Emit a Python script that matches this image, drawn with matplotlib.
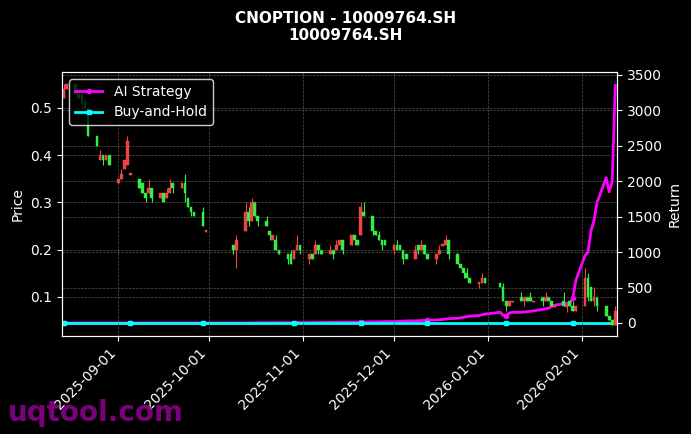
import matplotlib
matplotlib.use("Agg")
import matplotlib.pyplot as plt
import matplotlib.dates as mdates
import pandas as pd
import numpy as np

# trading days
days_aug = ["2025-08-14","2025-08-15","2025-08-18","2025-08-19","2025-08-20","2025-08-21","2025-08-22","2025-08-25","2025-08-26","2025-08-27","2025-08-28","2025-08-29"]
dates = list(pd.to_datetime(days_aug))
dates += list(pd.bdate_range("2025-09-01", "2025-09-30"))
dates += list(pd.bdate_range("2025-10-09", "2025-10-31"))
dates += list(pd.bdate_range("2025-11-01", "2025-11-30"))
dates += list(pd.bdate_range("2025-12-01", "2025-12-31"))
dates += list(pd.bdate_range("2026-01-05", "2026-01-30"))
dates += list(pd.bdate_range("2026-02-02", "2026-02-12"))

opens = [0.52,0.54,0.55,0.53,0.53,0.51,0.50,0.44,0.39,0.40,0.39,0.40,
         0.34,0.35,0.37,0.38,0.36,0.35,0.34,0.32,0.32,0.33,0.31,0.32,0.31,0.32,0.34,0.33,0.34,0.31,0.29,0.28,0.28,0.24,
         0.21,0.20,0.24,0.28,0.26,0.30,0.27,0.26,0.24,0.22,0.22,0.20,0.19,0.19,0.18,0.20,0.21,
         0.18,0.19,0.19,0.21,0.20,0.19,0.20,0.20,0.21,0.22,0.21,0.23,0.22,0.23,0.28,0.27,0.24,0.23,0.22,0.22,
         0.20,0.21,0.21,0.20,0.19,0.18,0.21,0.20,0.21,0.19,0.18,0.19,0.21,0.21,0.22,0.19,0.17,0.16,0.15,0.14,0.13,0.13,0.14,
         0.13,0.12,0.09,0.08,0.09,0.10,0.09,0.10,0.10,0.09,0.10,0.09,0.10,0.09,0.08,0.09,0.08,0.09,0.08,0.07,
         0.08,0.14,0.12,0.09,0.10,0.08,0.06,0.05,0.04]
closes = [0.54,0.55,0.53,0.52,0.51,0.50,0.44,0.42,0.40,0.39,0.40,0.38,
          0.35,0.36,0.39,0.43,0.36,0.33,0.32,0.31,0.33,0.31,0.32,0.30,0.32,0.33,0.33,0.34,0.32,0.29,0.28,0.27,0.25,0.24,
          0.20,0.22,0.28,0.26,0.30,0.27,0.26,0.25,0.23,0.23,0.20,0.19,0.18,0.17,0.20,0.21,0.20,
          0.19,0.18,0.21,0.20,0.19,0.20,0.19,0.21,0.22,0.20,0.23,0.22,0.21,0.29,0.27,0.24,0.23,0.22,0.21,0.21,
          0.21,0.20,0.20,0.18,0.18,0.20,0.20,0.21,0.19,0.18,0.19,0.20,0.21,0.22,0.19,0.17,0.16,0.15,0.14,0.13,0.13,0.14,0.13,
          0.12,0.09,0.08,0.09,0.09,0.09,0.10,0.09,0.09,0.09,0.09,0.10,0.09,0.08,0.08,0.08,0.08,0.08,0.07,0.08,
          0.14,0.10,0.09,0.10,0.08,0.06,0.05,0.04,0.07]
wick_up = [0.01,0.0,0.0,0.01,0.0,0.01,0.0,0.0,0.01,0.0,0.0,0.0,
           0.0,0.01,0.0,0.01,0.0,0.0,0.0,0.0,0.02,0.0,0.0,0.0,0.01,0.02,0.0,0.0,0.02,0.0,0.0,0.0,0.01,0.0,
           0.0,0.01,0.02,0.01,0.01,0.0,0.0,0.01,0.0,0.0,0.01,0.0,0.0,0.01,0.0,0.02,0.0,
           0.0,0.0,0.01,0.0,0.0,0.01,0.0,0.01,0.0,0.0,0.0,0.0,0.0,0.01,0.02,0.0,0.0,0.01,0.0,0.0,
           0.0,0.01,0.0,0.0,0.0,0.01,0.0,0.01,0.0,0.0,0.0,0.01,0.0,0.01,0.0,0.0,0.0,0.0,0.01,0.0,0.0,0.01,0.0,
           0.0,0.01,0.0,0.0,0.0,0.01,0.0,0.0,0.01,0.0,0.0,0.01,0.0,0.0,0.0,0.02,0.0,0.0,0.01,0.0,
           0.02,0.01,0.0,0.02,0.0,0.0,0.0,0.0,0.01]
wick_dn = [0.0,0.0,0.0,0.0,0.01,0.0,0.0,0.0,0.0,0.01,0.0,0.0,
           0.0,0.0,0.0,0.0,0.0,0.0,0.0,0.01,0.0,0.01,0.0,0.0,0.0,0.0,0.01,0.0,0.02,0.0,0.01,0.0,0.0,0.0,
           0.01,0.04,0.0,0.01,0.0,0.0,0.01,0.0,0.01,0.0,0.0,0.0,0.01,0.0,0.0,0.0,0.01,
           0.01,0.0,0.0,0.01,0.0,0.0,0.01,0.0,0.0,0.01,0.0,0.01,0.0,0.0,0.0,0.01,0.0,0.0,0.01,0.0,
           0.01,0.0,0.0,0.01,0.0,0.0,0.01,0.0,0.0,0.0,0.01,0.0,0.0,0.0,0.01,0.0,0.0,0.01,0.0,0.0,0.01,0.0,0.0,
           0.0,0.0,0.01,0.0,0.0,0.0,0.01,0.0,0.0,0.0,0.01,0.0,0.0,0.0,0.0,0.0,0.01,0.0,0.0,0.0,
           0.0,0.01,0.0,0.01,0.01,0.0,0.0,0.0,0.0]

strategy = [0]*12 + [0]*22 + \
    [0,0,0,1,1,1,2,2,2,3,3,3,4,4,4,5,5] + \
    [5,6,6,7,7,8,8,9,9,10,11,12,12,13,14,15,16,17,18,19] + \
    [20,22,24,26,28,30,32,34,36,38,42,46,50,55,60,66,72,80,88,96,105,115,125] + \
    [150,110,105,140,150,150,155,160,165,170,190,200,210,230,250,270,275,280,350,600] + \
    [950,1000,1300,1450,1700,2050,1850,2000,3350]
buyhold = [0]*len(closes)

fig = plt.figure(figsize=(6.91, 4.34), dpi=100, facecolor="black")
ax = fig.add_axes([0.09, 0.226, 0.803, 0.608], facecolor="black")
ax2 = ax.twinx()
ax2.set_zorder(1)
ax.set_zorder(2)
ax.patch.set_visible(False)

xd = mdates.date2num(dates)
for x, o, c, wu, wd in zip(xd, opens, closes, wick_up, wick_dn):
    col = "#ef4444" if c >= o else "#33ee44"
    lo, hi = min(o, c), max(o, c)
    if hi - lo < 0.004:
        lo, hi = lo - 0.002, hi + 0.002
    ax.vlines(x, lo - wd, hi + wu, color=col, lw=0.8)
    ax.bar(x, hi - lo, bottom=lo, width=0.9, color=col, edgecolor=col, lw=0.3)

ax2.plot(dates, strategy, color="#ff00ff", lw=2, marker="o", ms=3, markevery=16, label="AI Strategy")
ax2.plot(dates, buyhold, color="cyan", lw=2, marker="s", ms=3.5, markevery=16, label="Buy-and-Hold")

ax.set_xlim(mdates.date2num(pd.Timestamp("2025-08-14")) - 0.5, mdates.date2num(pd.Timestamp("2026-02-12")) + 0.6)
ax.set_ylim(0.017, 0.576)
ax2.set_ylim(-183, 3541)
ax.set_ylabel("Price", color="white")
ax2.set_ylabel("Return", color="white")
ax.xaxis.set_major_locator(mdates.MonthLocator())
ax.xaxis.set_major_formatter(mdates.DateFormatter("%Y-%m-%d"))
plt.setp(ax.get_xticklabels(), rotation=45, ha="right")
for a in (ax, ax2):
    a.tick_params(colors="white")
    for s in a.spines.values():
        s.set_color("white")
ax.grid(True, color="#555555", ls="--", lw=0.5)
ax2.grid(True, color="#555555", ls="--", lw=0.5)
h, l = ax2.get_legend_handles_labels()
leg = ax.legend(h, l, loc="upper left", facecolor="black", edgecolor="white", labelcolor="white", fontsize=10)
fig.suptitle("CNOPTION - 10009764.SH\n10009764.SH", color="white", fontweight="bold", fontsize=11, y=0.975)
fig.text(0.012, 0.03, "uqtool.com", color="#8b008b", fontsize=20, fontweight="bold", alpha=0.9)
fig.savefig("out.png", facecolor="black")
